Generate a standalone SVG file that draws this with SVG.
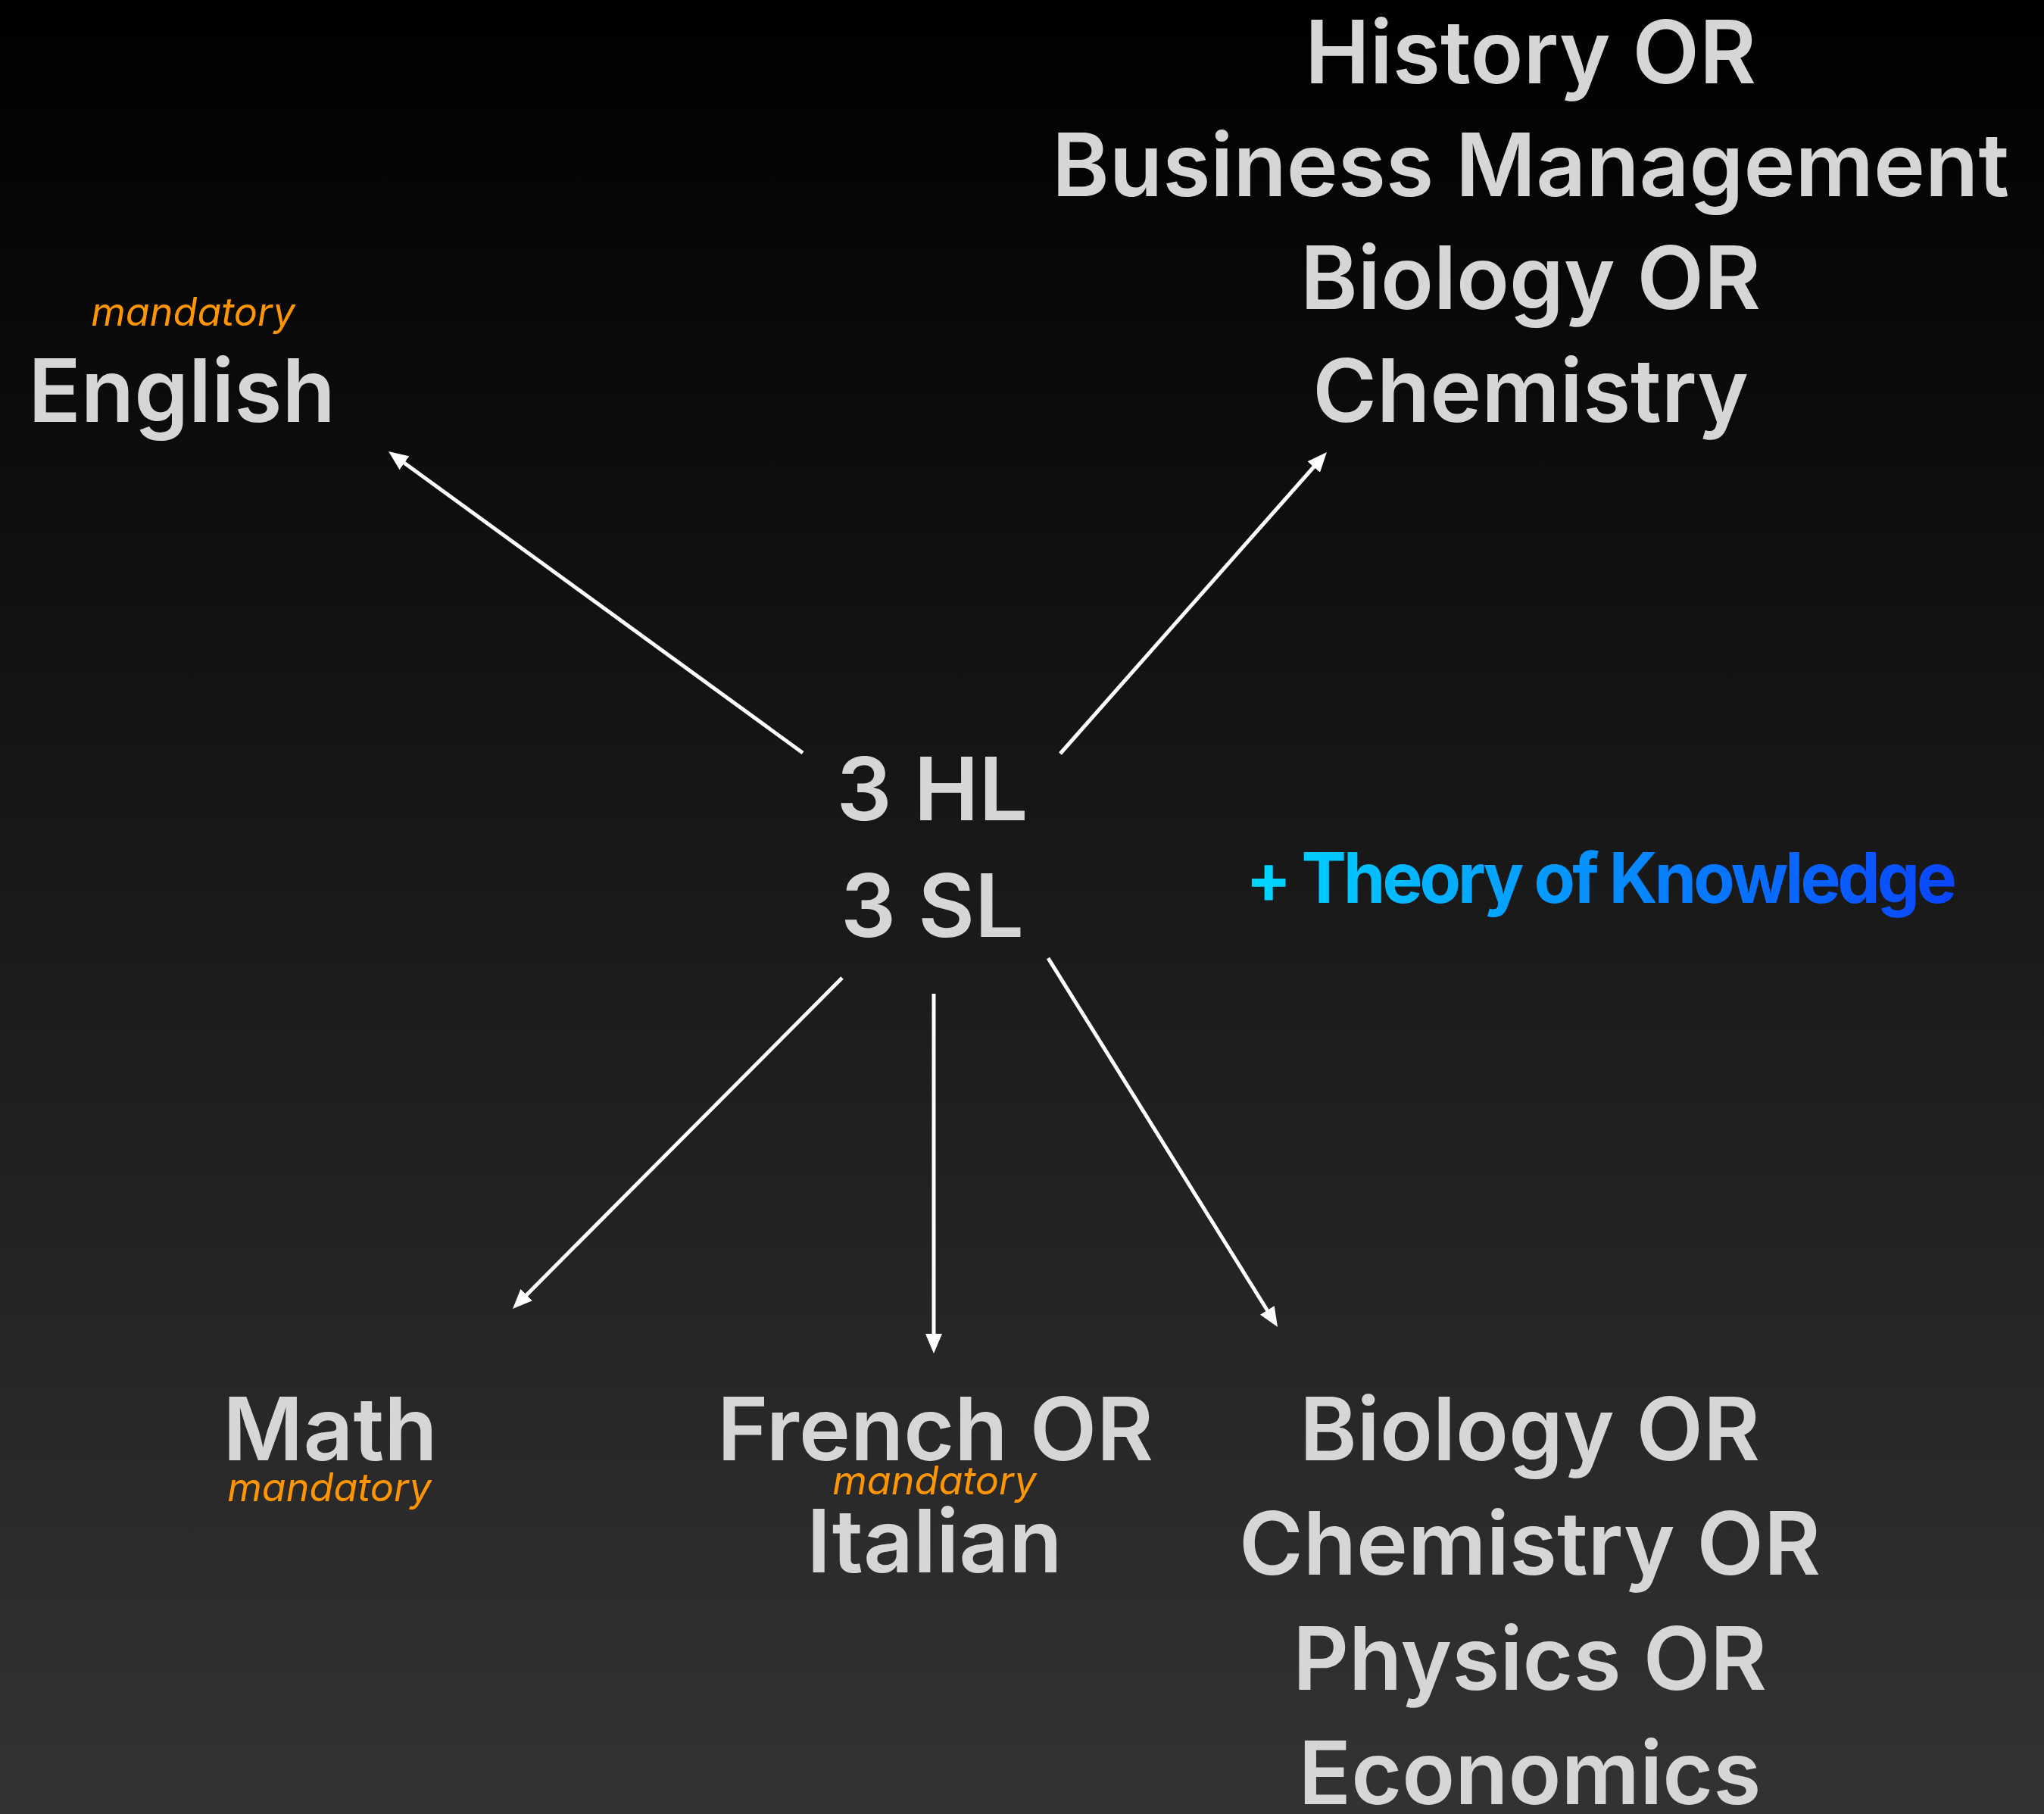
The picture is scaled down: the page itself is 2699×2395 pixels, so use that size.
<svg xmlns="http://www.w3.org/2000/svg" width="2699" height="2395" viewBox="0 0 2699 2395">
<defs>
<linearGradient id="bg" x1="0" y1="0" x2="0" y2="1">
<stop offset="0" stop-color="#000000"/>
<stop offset="1" stop-color="#333333"/>
</linearGradient>
<linearGradient id="tok" gradientUnits="userSpaceOnUse" x1="1645" y1="0" x2="2580" y2="0">
<stop offset="0" stop-color="#00D8FF"/>
<stop offset="1" stop-color="#0A45FF"/>
</linearGradient>
<marker id="arrow" markerUnits="userSpaceOnUse" markerWidth="26" markerHeight="22" refX="4" refY="11" orient="auto" viewBox="0 0 26 22">
<path d="M0,0 L26,11 L0,22 Z" fill="#ffffff"/>
</marker>
<style>
.t{font-family:Inter,"Liberation Sans",sans-serif;font-weight:570;font-size:115px;fill:#d6d6d6;text-anchor:middle}
.m{font-family:Inter,"Liberation Sans",sans-serif;font-style:italic;font-weight:400;font-size:52px;fill:#FF9500;text-anchor:middle}
.c{stroke:#ffffff;stroke-width:5;fill:none;marker-end:url(#arrow)}
</style>
</defs>
<rect x="0" y="0" width="2699" height="2395" fill="url(#bg)"/>
<g id="connectors">
<line class="c" x1="1060" y1="994" x2="530.8" y2="608.9"/>
<line class="c" x1="1400" y1="995" x2="1737.4" y2="613.5"/>
<line class="c" x1="1112" y1="1291" x2="692.5" y2="1712.4"/>
<line class="c" x1="1233" y1="1312" x2="1233" y2="1765"/>
<line class="c" x1="1384" y1="1265" x2="1675.4" y2="1733.3"/>
</g>
<g id="center">
<text class="t" x="1231" y="1083">3 HL</text>
<text class="t" x="1231" y="1237">3 SL</text>
</g>
<g id="english">
<text class="m" x="255" y="430">mandatory</text>
<text class="t" x="240" y="557">English</text>
</g>
<g id="history">
<text class="t" x="2021" y="110">History OR</text>
<text class="t" x="2021" y="259">Business Management</text>
<text class="t" x="2021" y="408">Biology OR</text>
<text class="t" x="2021" y="557">Chemistry</text>
</g>
<g id="math">
<text class="t" x="436" y="1928">Math</text>
<text class="m" x="435" y="1982">mandatory</text>
</g>
<g id="language">
<text class="t" x="1235" y="1928">French OR</text>
<text class="m" x="1234" y="1973">mandatory</text>
<text class="t" x="1234" y="2076">Italian</text>
</g>
<g id="science">
<text class="t" x="2020" y="1928">Biology OR</text>
<text class="t" x="2020" y="2079">Chemistry OR</text>
<text class="t" x="2020" y="2231">Physics OR</text>
<text class="t" x="2020" y="2382">Economics</text>
</g>
<g id="tok-label">
<text x="1645" y="1192" font-family="Inter,'Liberation Sans',sans-serif" font-weight="700" font-size="92" fill="url(#tok)" letter-spacing="-4" textLength="935" lengthAdjust="spacingAndGlyphs">+ Theory of Knowledge</text>
</g>
</svg>
